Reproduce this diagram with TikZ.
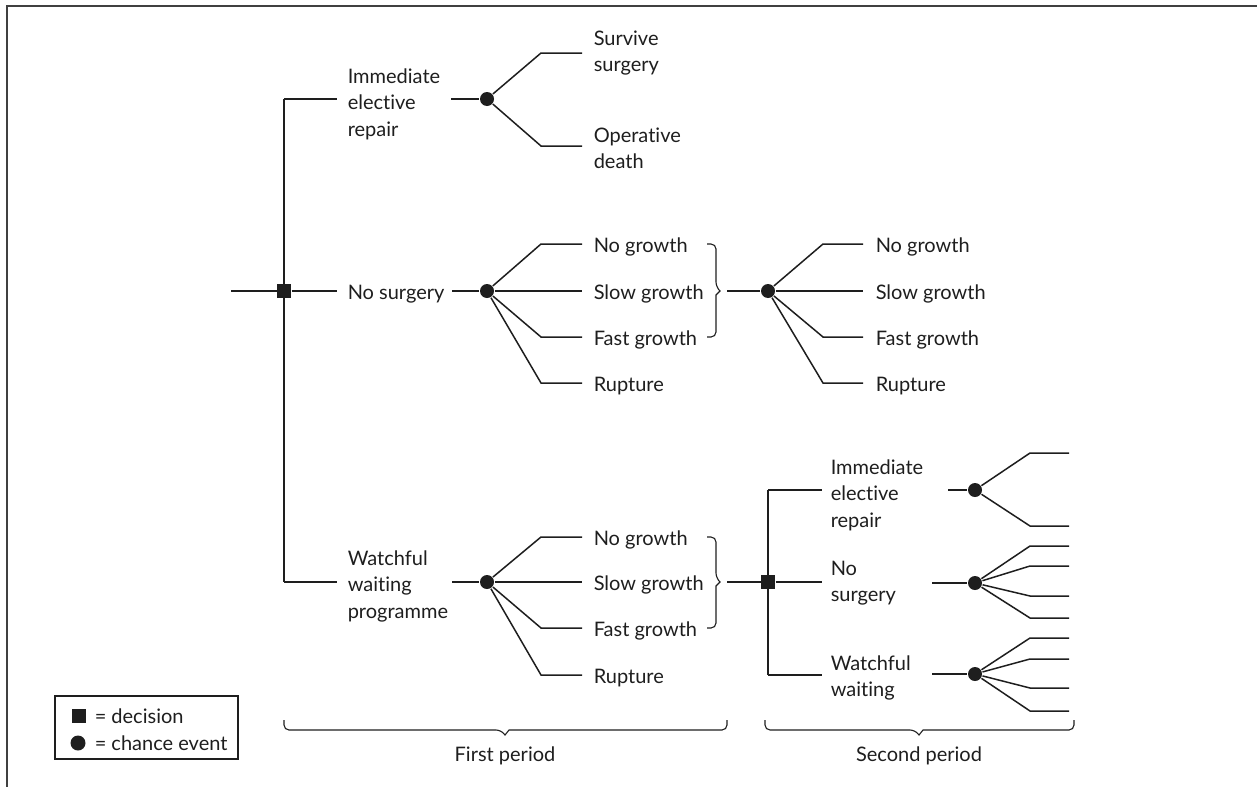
\documentclass[tikz,border=0pt]{standalone}
\usepackage{fontspec}
\setmainfont{Lato}[Ligatures={NoCommon,NoContextual},Contextuals=NoAlternate,RawFeature={-dlig;-calt;-liga}]
\definecolor{ink}{HTML}{1E1E1E}
\begin{document}
\begin{tikzpicture}[x=1pt,y=-1pt,line width=1.5pt,color=ink,
  chance/.style={circle,fill=ink,draw=none,inner sep=0pt,minimum size=14pt},
  decision/.style={rectangle,fill=ink,draw=none,inner sep=0pt,minimum size=13.5pt},
  lbl/.style={anchor=base west,align=left,inner sep=0pt,
    font=\fontsize{20}{26.5}\selectfont},
  ctr/.style={anchor=base,inner sep=0pt,font=\fontsize{20}{26.5}\selectfont},
  bracestroke/.style={line width=1.1pt,rounded corners=5pt},
  frame/.style={line width=2pt,draw=ink!85}]
\useasboundingbox (0,0) rectangle (1257,787);

% frame (top and left edges)
\draw[frame] (1257,6) -- (7,6) -- (7,787);

% multi-line labels are anchored at the baseline of their last line

% ---------- first decision ----------
\coordinate (start) at (231,291);
\node[decision] (D1) at (284,291) {};
\coordinate (D1t) at (284,99);
\coordinate (D1b) at (284,582);
\draw (start) -- (D1);
\draw (D1t) -- (D1b);
\draw (D1t) -- (337,99);
\draw (D1) -- (337,291);
\draw (D1b) -- (337,582);

\node[lbl] (oA) at (347,136) {Immediate\\elective\\repair};
\node[lbl] (oB) at (347,299) {No surgery};
\node[lbl] (oC) at (347,618) {Watchful\\waiting\\programme};

% ---------- chance: immediate repair ----------
\node[chance] (C1) at (487,99) {};
\draw (451,99) -- (C1);
\draw (C1) -- (541,53) -- (582,53);
\draw (C1) -- (541,146) -- (582,146);
\node[lbl] (sv) at (593,71.5) {Survive\\surgery};
\node[lbl] (od) at (593,168.5) {Operative\\death};

% ---------- chance: no surgery, first period ----------
\node[chance] (C2) at (487,291) {};
\draw (452,291) -- (C2);
\draw (C2) -- (541,244) -- (582,244);
\draw (C2) -- (582,291);
\draw (C2) -- (541,337) -- (582,337);
\draw (C2) -- (541,383) -- (582,383);
\node[lbl] (n1) at (593,252) {No growth};
\node[lbl] (n2) at (593,299) {Slow growth};
\node[lbl] (n3) at (593,345) {Fast growth};
\node[lbl] (n4) at (593,391) {Rupture};
\draw[bracestroke] (707,244) -- (716,244) -- (716,287) [sharp corners] -- (720,291) -- (716,295) [rounded corners=5pt] -- (716,337) -- (707,337);

% ---------- chance: no surgery, second period ----------
\node[chance] (C4) at (768,291) {};
\draw (727,291) -- (C4);
\draw (C4) -- (823,244) -- (863,244);
\draw (C4) -- (863,291);
\draw (C4) -- (823,337) -- (863,337);
\draw (C4) -- (823,383) -- (863,383);
\node[lbl] (m1) at (875,252) {No growth};
\node[lbl] (m2) at (875,299) {Slow growth};
\node[lbl] (m3) at (875,345) {Fast growth};
\node[lbl] (m4) at (875,391) {Rupture};

% ---------- chance: watchful waiting, first period ----------
\node[chance] (C3) at (487,582) {};
\draw (452,582) -- (C3);
\draw (C3) -- (541,537) -- (582,537);
\draw (C3) -- (582,582);
\draw (C3) -- (541,628) -- (582,628);
\draw (C3) -- (541,675) -- (582,675);
\node[lbl] (w1) at (593,545) {No growth};
\node[lbl] (w2) at (593,590) {Slow growth};
\node[lbl] (w3) at (593,636) {Fast growth};
\node[lbl] (w4) at (593,683) {Rupture};
\draw[bracestroke] (707,537) -- (716,537) -- (716,578) [sharp corners] -- (720,582) -- (716,586) [rounded corners=5pt] -- (716,628) -- (707,628);

% ---------- second decision ----------
\node[decision] (D2) at (768,582) {};
\coordinate (D2t) at (768,490);
\coordinate (D2b) at (768,675);
\draw (727,582) -- (D2);
\draw (D2t) -- (D2b);
\draw (D2t) -- (822,490);
\draw (D2) -- (822,582);
\draw (D2b) -- (822,675);
\node[lbl] (pA) at (830,527) {Immediate\\elective\\repair};
\node[lbl] (pB) at (830,601.5) {No\\surgery};
\node[lbl] (pC) at (830,696.5) {Watchful\\waiting};

\node[chance] (C5) at (975,490) {};
\draw (948,490) -- (C5);
\foreach \y in {453,526} \draw (C5) -- (1030,\y) -- (1069,\y);

\node[chance] (C6) at (975,583) {};
\draw (932,583) -- (C6);
\foreach \y in {546,566,596,618} \draw (C6) -- (1030,\y) -- (1069,\y);

\node[chance] (C7) at (975,674) {};
\draw (932,674) -- (C7);
\foreach \y in {638,659,688,711} \draw (C7) -- (1030,\y) -- (1069,\y);

% ---------- period braces ----------
\draw[bracestroke] (284,720) -- (284,730) -- (501,730) [sharp corners] -- (505,735) -- (509,730) [rounded corners=5pt] -- (727,730) -- (727,720);
\node[ctr] (p1) at (505,761) {First period};
\draw[bracestroke] (765,720) -- (765,730) -- (915,730) [sharp corners] -- (919,735) -- (923,730) [rounded corners=5pt] -- (1074,730) -- (1074,720);
\node[ctr] (p2) at (919,761) {Second period};

% ---------- legend ----------
\draw[line width=1.1pt] (55,696) rectangle (238,759);
\node[decision,minimum size=14pt] (ld) at (79,716) {};
\node[chance,minimum size=15pt] (lc) at (78,743) {};
\node[lbl] (ldt) at (94,723) {= decision};
\node[lbl] (lct) at (94,750) {= chance event};
\end{tikzpicture}
\end{document}
